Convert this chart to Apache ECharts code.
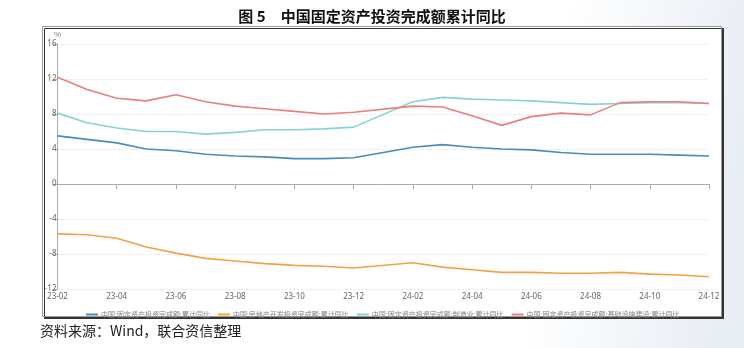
<!DOCTYPE html>
<html><head><meta charset="utf-8">
<script src="https://cdn.jsdelivr.net/npm/echarts@6/dist/echarts.min.js"></script>
<style>html,body{margin:0;padding:0;background:#fff;}#c{width:744px;height:348px;}</style>
</head><body><div id="c"></div>
<script>
const months = ['23-02','23-03','23-04','23-05','23-06','23-07','23-08','23-09','23-10','23-11','23-12','24-01','24-02','24-03','24-04','24-05','24-06','24-07','24-08','24-09','24-10','24-11','24-12'];
const totalFAI = [5.5,5.1,4.7,4.0,3.8,3.4,3.2,3.1,2.9,2.9,3.0,null,4.2,4.5,4.2,4.0,3.9,3.6,3.4,3.4,3.4,3.3,3.2];
const realEstate = [-5.7,-5.8,-6.2,-7.2,-7.9,-8.5,-8.8,-9.1,-9.3,-9.4,-9.6,null,-9.0,-9.5,-9.8,-10.1,-10.1,-10.2,-10.2,-10.1,-10.3,-10.4,-10.6];
const manufacturing = [8.1,7.0,6.4,6.0,6.0,5.7,5.9,6.2,6.2,6.3,6.5,null,9.4,9.9,9.7,9.6,9.5,9.3,9.1,9.2,9.3,9.3,9.2];
const infrastructure = [12.2,10.8,9.8,9.5,10.2,9.4,8.9,8.6,8.3,8.0,8.2,null,8.9,8.8,7.8,6.7,7.7,8.1,7.9,9.3,9.4,9.4,9.2];
const seriesNames = ['中国:固定资产投资完成额:累计同比','中国:房地产开发投资完成额:累计同比','中国:固定资产投资完成额:制造业:累计同比','中国:固定资产投资完成额:基础设施建设:累计同比'];
const colors = ['#4a8bb9','#f6a046','#86d4d1','#eb7f7f'];
const titleText = '图 5\u3000中国固定资产投资完成额累计同比';
const sourceText = '资料来源：Wind，联合资信整理';

const chart = echarts.init(document.getElementById('c'), null, {renderer:'canvas'});
const dataSets = [totalFAI, realEstate, manufacturing, infrastructure];
chart.setOption({
  animation:false,
  backgroundColor:{type:'linear', x:0, y:0, x2:1, y2:0.3, colorStops:[{offset:0,color:'#ffffff'},{offset:0.75,color:'#ffffff'},{offset:1,color:'#e9edf4'}]},
  title:{text:titleText, left:'center', top:4, textStyle:{fontFamily:'Noto Sans CJK SC', fontWeight:'bold', fontSize:15, color:'#111'}},
  graphic:[
    {id:'src', type:'text', z:100, left:40, top:324, style:{text:sourceText, font:'14px "Noto Sans CJK SC"', fill:'#222'}}
  ],
  legend:{left:81, top:306, itemWidth:12, itemHeight:2, itemGap:8, icon:'rect',
    textStyle:{fontSize:7, color:'#808080', fontFamily:'Noto Sans CJK SC', padding:[0,0,0,-2]},
    data:seriesNames},
  grid:[
    {left:57.5, right:35, top:44, bottom:59},
    {left:42.5, top:26.5, width:679, height:290, show:true, z:-1, backgroundColor:'#ffffff', borderColor:'#9a9a9a', borderWidth:1,
      shadowColor:'#333333', shadowBlur:0, shadowOffsetX:2, shadowOffsetY:2}
  ],
  xAxis:[
    {type:'category', data:months, boundaryGap:false,
      axisLine:{lineStyle:{color:'#aaa'}},
      axisTick:{show:true, interval:1, length:5, lineStyle:{color:'#aaa'}},
      axisLabel:{interval:1, fontSize:8, color:'#666', margin:4, fontFamily:'Noto Sans'}},
    {type:'value', gridIndex:1, show:false}
  ],
  yAxis:[
    {type:'value', min:-12, max:16, interval:4, name:'%', nameGap:5,
      nameTextStyle:{fontSize:8, color:'#888', align:'center'},
      axisLine:{show:true, lineStyle:{color:'#aaa'}},
      axisTick:{show:true, length:5, lineStyle:{color:'#aaa'}},
      axisLabel:{fontSize:8, color:'#666', margin:1, fontFamily:'Noto Sans'},
      splitLine:{lineStyle:{color:'#e2e2e2', type:[2,2]}}},
    {type:'value', gridIndex:1, show:false}
  ],
  series: dataSets.map((d,i)=>({name:seriesNames[i], type:'line', data:d, connectNulls:true, showSymbol:false, symbol:'none',
    lineStyle:{width:1.6, color:colors[i]}, itemStyle:{color:colors[i]}}))
});
</script></body></html>
